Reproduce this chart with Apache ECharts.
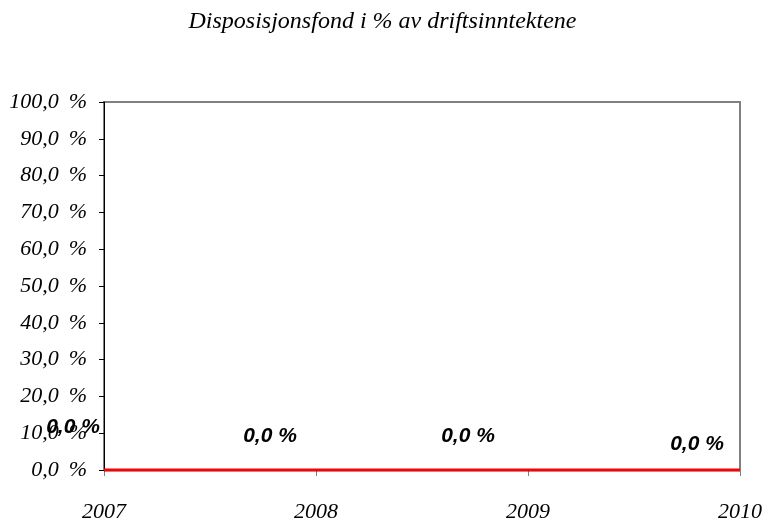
<!DOCTYPE html>
<html><head><meta charset="utf-8">
<script src="https://cdn.jsdelivr.net/npm/echarts@6/dist/echarts.min.js"></script>
<style>html,body{margin:0;padding:0;background:#fff}#c{width:765px;height:523px}</style>
</head><body><div id="c"></div>
<script>
const years = ['2007','2008','2009','2010'];
const values = [0, 0, 0, 0];
const labelOffsets = [[-31,-43],[-46,-34],[-60,-34],[-43,-26]];
const yMin = 0, yMax = 100, yStep = 10;

const chart = echarts.init(document.getElementById('c'));
chart.setOption({
  animation: false,
  backgroundColor: '#fff',
  title: {
    text: 'Disposisjonsfond i % av driftsinntektene',
    left: 'center', top: 5,
    textStyle: {fontFamily: 'Liberation Serif', fontStyle: 'italic', fontWeight: 'normal', fontSize: 24, color: '#000'}
  },
  grid: {left: 104, right: 24, top: 102, bottom: 51, show: true, borderColor: '#808080', borderWidth: 2, backgroundColor: 'transparent'},
  xAxis: {
    type: 'category', data: years, boundaryGap: false,
    axisLine: {show: false},
    axisTick: {show: true, length: 6, lineStyle: {color: '#808080'}},
    axisLabel: {margin: 31, fontFamily: 'Liberation Serif', fontStyle: 'italic', fontSize: 22, color: '#000'},
    splitLine: {show: false}
  },
  yAxis: {
    type: 'value', min: yMin, max: yMax, interval: yStep,
    axisLine: {show: true, lineStyle: {color: '#000', width: 1}},
    axisTick: {show: true, length: 5, lineStyle: {color: '#000'}},
    axisLabel: {margin: 17, fontFamily: 'Liberation Serif', fontStyle: 'italic', fontSize: 22, color: '#000',
      formatter: v => v.toFixed(1).replace('.', ',') + '\u2009 %'},
    splitLine: {show: false}
  },
  series: [{
    type: 'line',
    data: values.map((v, i) => ({
      value: v,
      label: {offset: labelOffsets[i]}
    })),
    symbol: 'circle', symbolSize: 1, showSymbol: true,
    itemStyle: {color: 'rgba(0,0,0,0)', borderWidth: 0},
    lineStyle: {color: '#ff0000', width: 3, shadowColor: 'rgba(0,0,0,0.6)', shadowOffsetY: 1, shadowBlur: 0},
    label: {
      show: true, position: 'inside',
      fontFamily: 'Liberation Sans', fontStyle: 'italic', fontWeight: 'bold', fontSize: 21, color: '#000',
      formatter: p => p.value.toFixed(1).replace('.', ',') + ' %'
    },
    emphasis: {disabled: true}
  }]
});
</script></body></html>
